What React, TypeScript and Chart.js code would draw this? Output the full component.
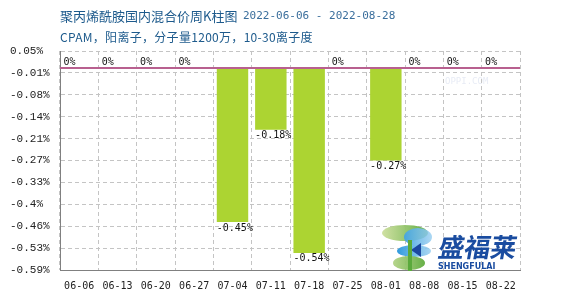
import React, { useEffect, useRef } from 'react';
import { Chart, registerables } from 'chart.js';

Chart.register(...registerables);

const TITLE = '聚丙烯酰胺国内混合价周K柱图';
const DATE_RANGE = '2022-06-06 - 2022-08-28';
const SUBTITLE = 'CPAM，阳离子，分子量1200万，10-30离子度';

const CATEGORIES = ['06-06', '06-13', '06-20', '06-27', '07-04', '07-11', '07-18', '07-25', '08-01', '08-08', '08-15', '08-22'];
const VALUES = [0, 0, 0, 0, -0.45, -0.18, -0.54, 0, -0.27, 0, 0, 0];

const Y_TICKS = [0.05, -0.014, -0.078, -0.142, -0.206, -0.27, -0.334, -0.398, -0.462, -0.526, -0.59];
const Y_TICK_LABELS = ['0.05%', '-0.01%', '-0.08%', '-0.14%', '-0.21%', '-0.27%', '-0.33%', '-0.4%', '-0.46%', '-0.53%', '-0.59%'];

const MONO = '"DejaVu Sans Mono", "Liberation Mono", monospace';
const LMONO = '"Liberation Mono", "DejaVu Sans Mono", monospace';
const CJK = '"Noto Sans CJK SC", sans-serif';

const decorPlugin = {
  id: 'decor',
  beforeDraw(chart: any) {
    const ctx = chart.ctx;
    ctx.save();
    ctx.fillStyle = '#ffffff';
    ctx.fillRect(0, 0, chart.width, chart.height);
    // title
    ctx.textBaseline = 'middle';
    ctx.textAlign = 'left';
    ctx.fillStyle = '#1d5a8c';
    ctx.font = `13px ${CJK}`;
    ctx.fillText(TITLE, 60, 16);
    ctx.fillStyle = '#3a6e9c';
    ctx.font = `11px ${MONO}`;
    ctx.fillText(DATE_RANGE, 243, 16);
    ctx.fillStyle = '#1d5a8c';
    ctx.font = `12px ${CJK}`;
    try {
      (ctx as any).letterSpacing = '0.3px';
    } catch (e) {}
    ctx.fillText(SUBTITLE, 60, 37);
    try {
      (ctx as any).letterSpacing = '0px';
    } catch (e) {}
    // faint watermark
    ctx.fillStyle = 'rgba(215,222,238,0.6)';
    ctx.font = `9px ${MONO}`;
    ctx.fillText('OPPI.COM', 445, 82);
    ctx.restore();
  },
  afterDatasetsDraw(chart: any) {
    const ctx = chart.ctx;
    const area = chart.chartArea;
    const yScale = chart.scales.y;
    const zeroY = Math.round(yScale.getPixelForValue(0));
    ctx.save();
    ctx.strokeStyle = '#b8608f';
    ctx.lineWidth = 2;
    ctx.beginPath();
    ctx.moveTo(area.left, zeroY);
    ctx.lineTo(area.right, zeroY);
    ctx.stroke();

    const meta = chart.getDatasetMeta(0);
    ctx.font = `10px ${MONO}`;
    ctx.fillStyle = '#111111';
    ctx.textAlign = 'left';
    meta.data.forEach((bar: any, i: number) => {
      const v = VALUES[i];
      const p = bar.getProps(['x', 'y', 'base', 'width'], true);
      const left = p.x - p.width / 2;
      const text = `${v}%`;
      if (v === 0) {
        ctx.textBaseline = 'bottom';
        ctx.fillText(text, left, zeroY - 1);
      } else {
        ctx.textBaseline = 'top';
        ctx.fillText(text, left, p.y + 1);
      }
    });
    ctx.restore();
  },
  afterDraw(chart: any) {
    const ctx = chart.ctx;
    ctx.save();
    // logo symbol
    const g1 = ctx.createLinearGradient(383, 0, 430, 0);
    g1.addColorStop(0, 'rgba(200,220,150,0.9)');
    g1.addColorStop(1, 'rgba(90,170,60,1)');
    ctx.fillStyle = g1;
    ctx.beginPath();
    ctx.ellipse(405, 233, 23, 8, 0, 0, Math.PI * 2);
    ctx.fill();
    const g2 = ctx.createLinearGradient(395, 0, 440, 0);
    g2.addColorStop(0, 'rgba(40,150,220,1)');
    g2.addColorStop(1, 'rgba(180,220,245,0.8)');
    ctx.fillStyle = g2;
    ctx.beginPath();
    ctx.ellipse(418, 237, 14, 9, 0, 0, Math.PI * 2);
    ctx.fill();
    ctx.beginPath();
    ctx.ellipse(414, 251, 17, 6, 0, 0, Math.PI * 2);
    ctx.fill();
    ctx.fillStyle = '#1c48a0';
    ctx.beginPath();
    ctx.moveTo(411, 250);
    ctx.lineTo(421, 243);
    ctx.lineTo(421, 257);
    ctx.closePath();
    ctx.fill();
    ctx.fillStyle = g1;
    ctx.beginPath();
    ctx.ellipse(409, 263, 16, 7, 0, 0, Math.PI * 2);
    ctx.fill();
    ctx.fillStyle = 'rgba(90,170,60,1)';
    ctx.fillRect(408, 240, 4, 31);
    // logo text
    ctx.fillStyle = '#1a4ca0';
    ctx.textAlign = 'left';
    ctx.textBaseline = 'alphabetic';
    ctx.save();
    ctx.translate(437, 257);
    ctx.transform(1, 0, -0.18, 1, 0, 0);
    ctx.font = `bold 26px ${CJK}`;
    ctx.fillText('盛福莱', 0, 0);
    ctx.restore();
    ctx.font = `bold 8px "DejaVu Sans", sans-serif`;
    ctx.fillText('SHENGFULAI', 438, 269);
    ctx.restore();
  },
};

export default function App() {
  const canvasRef = useRef<HTMLCanvasElement | null>(null);

  useEffect(() => {
    const canvas = canvasRef.current;
    if (!canvas) return;
    const chart = new Chart(canvas, {
      type: 'bar',
      data: {
        labels: CATEGORIES,
        datasets: [
          {
            data: VALUES,
            backgroundColor: '#acd432',
            borderWidth: 0,
            barPercentage: 0.82,
            categoryPercentage: 1,
          },
        ],
      },
      options: {
        responsive: false,
        animation: false,
        layout: { padding: { left: 10, right: 50, top: 51, bottom: 0 } },
        plugins: { legend: { display: false }, tooltip: { enabled: false }, title: { display: false } },
        scales: {
          x: {
            offset: true,
            grid: { color: '#c4c4c4', drawTicks: false, offset: true },
            border: { display: true, color: '#808080', width: 1, dash: [4, 3] },
            ticks: {
              font: { family: MONO, size: 10 },
              color: '#222222',
              padding: 10,
              maxRotation: 0,
              autoSkip: false,
            },
            afterFit: (s: any) => {
              s.height = 30;
            },
          },
          y: {
            min: -0.59,
            max: 0.05,
            afterBuildTicks: (ax: any) => {
              ax.ticks = Y_TICKS.map((v) => ({ value: v }));
            },
            grid: { color: '#c4c4c4', drawTicks: false },
            border: { display: true, color: '#808080', width: 1, dash: [4, 3] },
            ticks: {
              callback: (_v: any, i: number) => Y_TICK_LABELS[i],
              crossAlign: 'far',
              font: { family: LMONO, size: 11 },
              color: '#222222',
              padding: 0,
            },
            afterFit: (s: any) => {
              s.width = 50;
            },
          },
        },
      },
      plugins: [decorPlugin],
    } as any);
    return () => chart.destroy();
  }, []);

  return (
    <div style={{ position: 'fixed', left: 0, top: 0, width: 570, height: 300, background: '#fff' }}>
      <canvas ref={canvasRef} width={570} height={300} style={{ width: 570, height: 300, display: 'block' }} />
    </div>
  );
}
